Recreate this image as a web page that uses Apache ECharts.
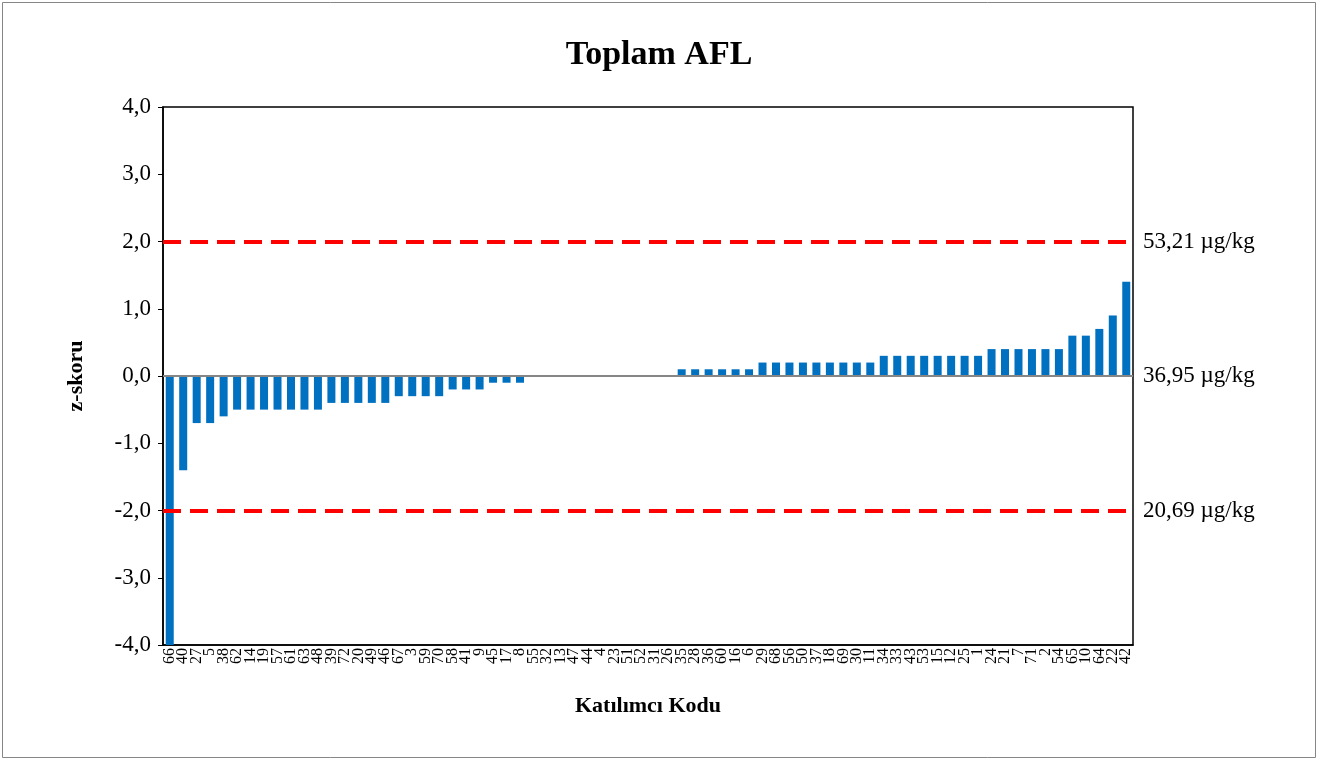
<!DOCTYPE html>
<html>
<head>
<meta charset="utf-8">
<script src="https://cdn.jsdelivr.net/npm/echarts@6/dist/echarts.min.js"></script>
<style>
html,body{margin:0;padding:0;background:#fff;}
#chart{width:1318px;height:760px;}
</style>
</head>
<body>
<div id="chart"></div>
<script>
// katilimci kodlari (soldan saga)
var kodlar = ['66','40','27','5','38','62','14','19','57','61','63','48','39','72','20','49','46','67','3','59','70','58','41','9','45','17','8',
  '55','32','13','47','44','4','23','51','52','31','26',
  '35','28','36','60','16','6','29','68','56','50','37','18','69','30','11',
  '34','33','43','53','15','12','25','1','24','21','7','71','2','54','65','10','64','22','42'];

// z-skorlari
var zskor = [-4.0,-1.4,-0.7,-0.7,-0.6,-0.5,-0.5,-0.5,-0.5,-0.5,-0.5,-0.5,-0.4,-0.4,-0.4,-0.4,-0.4,-0.3,-0.3,-0.3,-0.3,-0.2,-0.2,-0.2,-0.1,-0.1,-0.1,
  0,0,0,0,0,0,0,0,0,0,0,
  0.1,0.1,0.1,0.1,0.1,0.1,0.2,0.2,0.2,0.2,0.2,0.2,0.2,0.2,0.2,
  0.3,0.3,0.3,0.3,0.3,0.3,0.3,0.3,0.4,0.4,0.4,0.4,0.4,0.4,0.6,0.6,0.7,0.9,1.4];

// referans cizgileri
var sinirlar = [2, 0, -2];
var sinirEtiket = ['53,21 µg/kg', '36,95 µg/kg', '20,69 µg/kg'];

var yazi = "'Times New Roman','Liberation Serif',serif";

var cizgiler = [];
for (var i = 0; i < sinirlar.length; i++) {
  var sifir = sinirlar[i] === 0;
  cizgiler.push({
    yAxis: sinirlar[i],
    lineStyle: sifir ? {color:'#868686', width:2, type:'solid'} : {color:'#FF0000', width:4, type:[18,9]},
    label: {show:true, position:'end', formatter: sinirEtiket[i], distance: 10,
      color:'#000', fontSize:23, fontFamily:yazi}
  });
}

var option = {
  animation: false,
  backgroundColor: '#fff',
  title: {
    text: 'Toplam AFL', left: 'center', top: 33,
    textStyle: {fontFamily: yazi, fontSize: 34, fontWeight: 'bold', color: '#000'}
  },
  graphic: [{
    type: 'rect', shape: {x: 2.5, y: 2.5, width: 1313, height: 755},
    style: {fill: 'none', stroke: '#868686', lineWidth: 1}, silent: true
  }],
  grid: {left: 163, right: 185, top: 107, bottom: 115, show: true,
    borderColor: '#000', borderWidth: 1.5, backgroundColor: 'transparent'},
  xAxis: {
    type: 'category', data: kodlar, position: 'bottom',
    axisLine: {onZero: false, lineStyle: {color: '#000', width: 1.5}},
    axisTick: {show: false},
    axisLabel: {interval: 0, rotate: 90, fontSize: 16, fontFamily: yazi, color: '#000', margin: 3},
    name: 'Katılımcı Kodu', nameLocation: 'middle', nameGap: 50,
    nameTextStyle: {fontFamily: yazi, fontSize: 22, fontWeight: 'bold', color: '#000'}
  },
  yAxis: {
    type: 'value', min: -4, max: 4, interval: 1,
    axisLine: {show: true, lineStyle: {color: '#000', width: 1.5}},
    axisTick: {show: true, length: 5, lineStyle: {color: '#000'}},
    splitLine: {show: false},
    axisLabel: {fontSize: 23, fontFamily: yazi, color: '#000', margin: 12,
      formatter: function (v) { return v.toFixed(1).replace('.', ','); }},
    name: 'z-skoru', nameLocation: 'middle', nameGap: 76,
    nameTextStyle: {fontFamily: yazi, fontSize: 22, fontWeight: 'bold', color: '#000'}
  },
  series: [{
    type: 'bar', data: zskor, barWidth: 8,
    itemStyle: {color: '#0070C0'},
    markLine: {symbol: 'none', silent: true, data: cizgiler, animation: false}
  }]
};

var chart = echarts.init(document.getElementById('chart'));
chart.setOption(option);
</script>
</body>
</html>
